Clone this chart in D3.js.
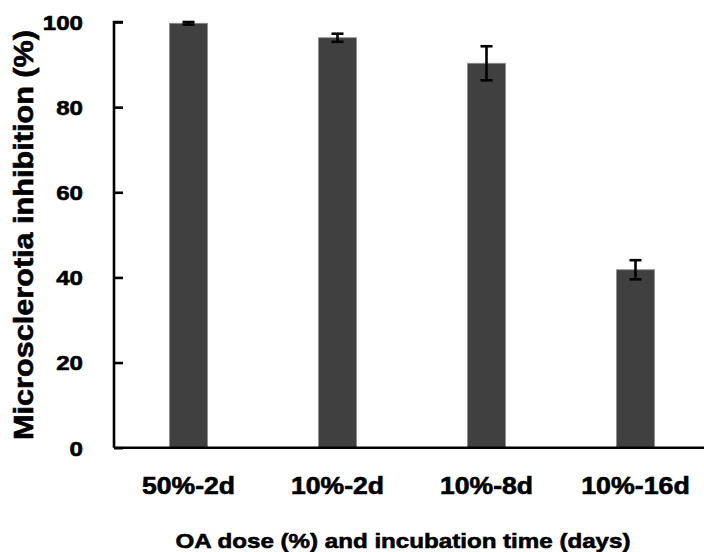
<!DOCTYPE html>
<html>
<head>
<meta charset="utf-8">
<script src="https://cdn.jsdelivr.net/npm/d3@7"></script>
<style>
  html, body { margin: 0; padding: 0; background: #ffffff; }
  text { font-family: "Liberation Sans", Arial, sans-serif; font-weight: bold; fill: #000; stroke: #000; stroke-width: 0.6px; }
</style>
</head>
<body>
<svg id="chart" width="704" height="552"></svg>
<script>
// Treatment groups: OA dose and incubation time
const categories = ["50%-2d", "10%-2d", "10%-8d", "10%-16d"];
// Mean microsclerotia inhibition (%)
const inhibition = [99.7, 96.3, 90.3, 41.8];
// Standard error of each mean
const stdError = [0.3, 0.95, 4.0, 2.25];
// Y axis tick values
const yTicks = [0, 20, 40, 60, 80, 100];

const svg = d3.select("#chart");

const x = d3.scaleBand()
  .domain(categories)
  .range([114, 710])
  .paddingInner(0.745)
  .paddingOuter(0.3725);

const y = d3.scaleLinear()
  .domain([0, 100])
  .range([447.7, 22]);

const data = categories.map((c, i) => ({ cat: c, v: inhibition[i], e: stdError[i] }));

// Bars
svg.append("g")
  .selectAll("rect")
  .data(data)
  .join("rect")
  .attr("x", d => x(d.cat))
  .attr("y", d => y(d.v))
  .attr("width", x.bandwidth())
  .attr("height", d => y(0) - y(d.v))
  .attr("fill", "#404040")
  .attr("stroke", "#8c8c8c")
  .attr("stroke-width", 0.8);

// Error bars
const eb = svg.append("g")
  .attr("stroke", "#000")
  .attr("stroke-width", 2.6)
  .selectAll("g")
  .data(data)
  .join("g");
const cx = d => x(d.cat) + x.bandwidth() / 2;
const capHalf = 6;
eb.append("line")
  .attr("x1", cx).attr("x2", cx)
  .attr("y1", d => y(d.v + d.e)).attr("y2", d => y(d.v - d.e));
eb.append("line")
  .attr("x1", d => cx(d) - capHalf).attr("x2", d => cx(d) + capHalf)
  .attr("y1", d => y(d.v + d.e)).attr("y2", d => y(d.v + d.e));
eb.append("line")
  .attr("x1", d => cx(d) - capHalf).attr("x2", d => cx(d) + capHalf)
  .attr("y1", d => y(d.v - d.e)).attr("y2", d => y(d.v - d.e));

// Y axis: ticks point into the plot
const yAxis = svg.append("g")
  .attr("transform", "translate(114,0)")
  .call(d3.axisRight(y).tickValues(yTicks).tickSize(9).tickFormat(d3.format("d")));
yAxis.select(".domain").attr("d", `M9,${y(100)}H0V${y(0)}`).attr("stroke-width", 2.6).attr("stroke", "#000");
yAxis.selectAll(".tick line").attr("stroke-width", 2.6).attr("stroke", "#000");
yAxis.selectAll(".tick text")
  .attr("x", -31)
  .attr("text-anchor", "end")
  .attr("dy", "0.36em")
  .style("font-size", "20.5px")
  .attr("textLength", d => String(d).length * 13.4)
  .attr("lengthAdjust", "spacingAndGlyphs");

// X axis line and category labels
const xAxis = svg.append("g")
  .attr("transform", `translate(0,${y(0)})`)
  .call(d3.axisBottom(x).tickSize(0).tickPadding(0));
xAxis.select(".domain").attr("d", `M114,0H704`).attr("stroke-width", 2.6).attr("stroke", "#000");
xAxis.selectAll(".tick text")
  .attr("y", 46)
  .attr("dy", 0)
  .style("font-size", "23.5px")
  .attr("textLength", d => d.length * 15.5)
  .attr("lengthAdjust", "spacingAndGlyphs");

// Axis titles
svg.append("text")
  .attr("x", 403)
  .attr("y", 548)
  .attr("text-anchor", "middle")
  .style("font-size", "21px")
  .attr("textLength", 455)
  .attr("lengthAdjust", "spacingAndGlyphs")
  .text("OA dose (%) and incubation time (days)");

svg.append("text")
  .attr("transform", "translate(33,235) rotate(-90)")
  .attr("text-anchor", "middle")
  .style("font-size", "27px")
  .attr("textLength", 410)
  .attr("lengthAdjust", "spacingAndGlyphs")
  .text("Microsclerotia inhibition (%)");
</script>
</body>
</html>
